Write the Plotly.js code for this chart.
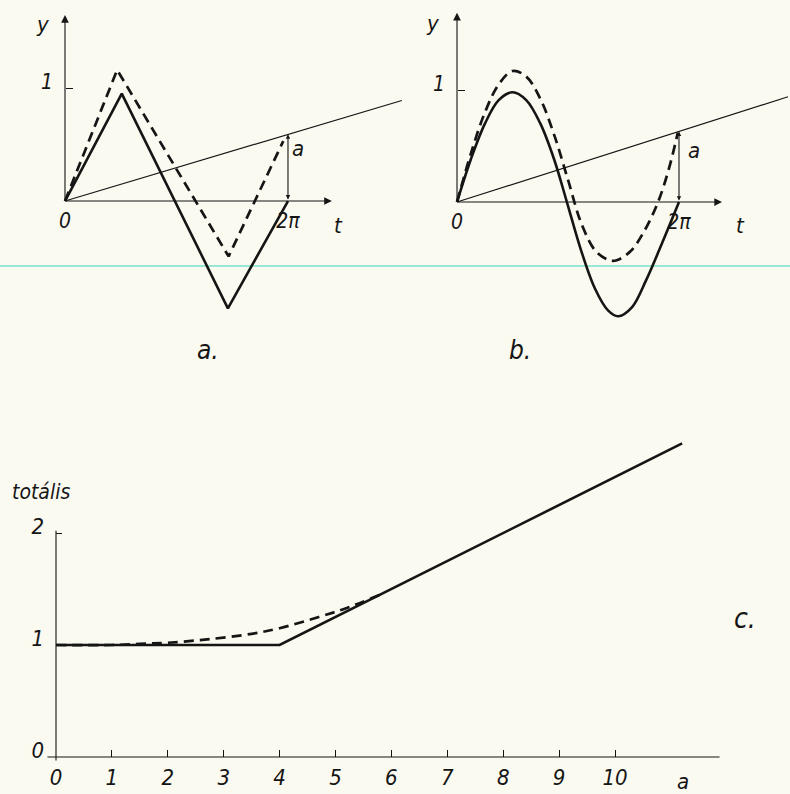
<!DOCTYPE html>
<html>
<head>
<meta charset="utf-8">
<script src="https://cdn.plot.ly/plotly-3.0.1.min.js"></script>
<style>
  html, body { margin: 0; padding: 0; background: #fafaf0; }
  #chart { width: 790px; height: 794px; }
</style>
</head>
<body>
<div id="chart"></div>
<script>
// ---------- DATA ----------
// panel a: triangle wave (solid), triangle + ramp (dashed), ramp line
const tA_solid = [0, 1.60, 4.59, 6.283];
const yA_solid = [0, 0.95, -0.95, 0];
const tA_dash  = [0, 1.47, 4.61, 6.15];
const yA_dash  = [0, 1.16, -0.49, 0.53];
const tA_line  = [0, 9.49];
const yA_line  = [0, 0.89];
const aA = 0.59;

// panel b: sine wave (solid), sine + ramp (dashed), ramp line
const tB_solid = [0, 0.39, 0.79, 1.18, 1.57, 1.96, 2.36, 2.75, 3.11, 3.50, 3.90, 4.28, 4.56, 4.95, 5.35, 5.80, 6.283];
const yB_solid = [0, 0.38, 0.70, 0.91, 0.98, 0.91, 0.70, 0.38, 0, -0.42, -0.77, -0.97, -1.02, -0.94, -0.70, -0.37, 0];
const tB_dash  = [0, 0.39, 0.79, 1.18, 1.57, 1.96, 2.36, 2.75, 3.14, 3.53, 3.93, 4.32, 4.52, 4.91, 5.30, 5.69, 6.00, 6.25];
const yB_dash  = [0, 0.43, 0.80, 1.05, 1.17, 1.12, 0.92, 0.60, 0.20, -0.20, -0.44, -0.52, -0.52, -0.44, -0.26, 0, 0.30, 0.62];
const tB_line  = [0, 9.37];
const yB_line  = [0, 0.94];
const aB = 0.63;

const periodEnd = 6.283;
const periodTickText = ['0', '2π'];

// panel c: totális vs a
const aC_solid = [0, 4, 11.2];
const yC_solid = [1, 1, 2.8];
const aC_dash  = [0, 1, 1.5, 2, 2.7, 3.5, 4, 4.7, 5.2, 5.8];
const yC_dash  = [1, 1, 1.01, 1.02, 1.05, 1.10, 1.15, 1.25, 1.33, 1.45];
const cTicksX = [0, 1, 2, 3, 4, 5, 6, 7, 8, 9, 10];
const cTicksY = [0, 1, 2];

// ---------- STYLE ----------
const INK = '#151515';
const FONT = "'DejaVu Sans Condensed', 'Liberation Sans Narrow', 'DejaVu Sans', sans-serif";
const W = 790, H = 794;
const pxX = v => v / W;
const pxY = v => 1 - v / H;

const solid = (x, y, xa, ya, shape) => ({x, y, xaxis: xa, yaxis: ya, mode: 'lines', hoverinfo: 'skip',
  line: {color: INK, width: 2.6, shape: shape || 'linear', smoothing: 1}});
const dashed = (x, y, xa, ya, shape) => ({x, y, xaxis: xa, yaxis: ya, mode: 'lines', hoverinfo: 'skip',
  line: {color: INK, width: 2.7, dash: '10px,6px', shape: shape || 'linear', smoothing: 1}});
const thin = (x, y, xa, ya) => ({x, y, xaxis: xa, yaxis: ya, mode: 'lines', hoverinfo: 'skip',
  line: {color: INK, width: 1.2}});

const data = [
  solid(tA_solid, yA_solid, 'x', 'y'),
  dashed(tA_dash, yA_dash, 'x', 'y'),
  thin(tA_line, yA_line, 'x', 'y'),
  solid(tB_solid, yB_solid, 'x2', 'y2', 'spline'),
  dashed(tB_dash, yB_dash, 'x2', 'y2', 'spline'),
  thin(tB_line, yB_line, 'x2', 'y2'),
  solid(aC_solid, yC_solid, 'x3', 'y3'),
  dashed(aC_dash, yC_dash, 'x3', 'y3', 'spline'),
];

const lblFont = (s) => ({family: FONT, size: s, color: INK, style: 'italic'});

const hidden = {showgrid: false, zeroline: false, showline: false};

// panel a/b axes (free positioned through origin)
const xA = Object.assign({}, hidden, {domain: [0, 0.53], range: [-1.831, 9.966], anchor: 'free', position: 1 - 201 / H,
  tickmode: 'array', tickvals: [0, periodEnd], ticktext: periodTickText, ticks: '', tickfont: lblFont(21), ticklabelstandoff: 5});
const yA = Object.assign({}, hidden, {domain: [1 - 340 / H, 1], range: [-1.230, 1.779], anchor: 'free', position: 65 / W,
  tickmode: 'array', tickvals: [1], ticktext: ['1'], ticks: 'inside', ticklen: 7, tickcolor: INK, tickwidth: 1,
  tickfont: lblFont(21), ticklabelstandoff: 12, ticklabelshift: -6});
const xB = Object.assign({}, hidden, {domain: [0.5, 1], range: [-1.755, 9.425], anchor: 'free', position: 1 - 202 / H,
  tickmode: 'array', tickvals: [0, periodEnd], ticktext: periodTickText, ticks: '', tickfont: lblFont(21), ticklabelstandoff: 5});
const yB = Object.assign({}, hidden, {domain: [1 - 340 / H, 1], range: [-1.232, 1.804], anchor: 'free', position: 457 / W,
  tickmode: 'array', tickvals: [1], ticktext: ['1'], ticks: 'inside', ticklen: 7, tickcolor: INK, tickwidth: 1,
  tickfont: lblFont(21), ticklabelstandoff: 12, ticklabelshift: -6});

// panel c axes
const xC = Object.assign({}, hidden, {domain: [56 / W, 1], range: [0, 13.13], anchor: 'y3',
  tickmode: 'array', tickvals: cTicksX, ticks: 'inside', ticklen: 7, tickcolor: INK, tickwidth: 1,
  tickfont: lblFont(22), ticklabelstandoff: 5});
const yC = Object.assign({}, hidden, {domain: [37 / H, 1 - 420 / H], range: [0, 3.009], anchor: 'x3',
  tickmode: 'array', tickvals: cTicksY, ticks: 'inside', ticklen: 6, tickcolor: INK, tickwidth: 1,
  tickfont: lblFont(22), ticklabelstandoff: 11, ticklabelshift: -7});

const arrow = (xr, yr, x, y, ax, ay, head, extra) => Object.assign({
  xref: xr, yref: yr, axref: xr, ayref: yr, x, y, ax, ay, text: '', showarrow: true,
  arrowhead: head, arrowsize: 1.4, arrowwidth: 1.1, arrowcolor: INK, standoff: 0, startstandoff: 0}, extra || {});

const txt = (text, x, y, size) => ({xref: 'paper', yref: 'paper', x: pxX(x), y: pxY(y), text,
  showarrow: false, xanchor: 'center', yanchor: 'middle', font: lblFont(size)});

const annotations = [
  // axes of panel a
  arrow('x', 'y', 0, 1.646, 0, 0, 2),
  arrow('x', 'y', 7.52, 0, 0, 0, 2),
  // amplitude arrow a
  arrow('x', 'y', periodEnd, aA, periodEnd, 0, 2, {arrowside: 'end+start', startarrowhead: 2, arrowsize: 0.8, startarrowsize: 0.8}),
  // axes of panel b
  arrow('x2', 'y2', 0, 1.69, 0, 0, 2),
  arrow('x2', 'y2', 7.50, 0, 0, 0, 2),
  arrow('x2', 'y2', periodEnd, aB, periodEnd, 0, 2, {arrowside: 'end+start', startarrowhead: 2, arrowsize: 0.8, startarrowsize: 0.8}),
  // axes of panel c
  arrow('x3', 'y3', 11.87, 0, -0.18, 0, 0),
  arrow('x3', 'y3', 0, 2.02, 0, -0.045, 0),
  // labels
  txt('y', 42, 25, 22), txt('t', 338, 225, 22), txt('a', 298, 148, 22),
  txt('y', 432, 24, 22), txt('t', 740, 225, 22), txt('a', 694, 150, 22),
  txt('a.', 208, 350, 26), txt('b.', 520, 350, 26),
  txt('totális', 41, 492, 21), txt('a', 683, 781, 22), txt('c.', 745, 618, 28),
];

const layout = {
  width: W, height: H,
  margin: {l: 0, r: 0, t: 0, b: 0},
  paper_bgcolor: '#fafaf0',
  plot_bgcolor: 'rgba(0,0,0,0)',
  showlegend: false,
  font: {family: FONT, color: INK, style: 'italic'},
  xaxis: xA, yaxis: yA, xaxis2: xB, yaxis2: yB, xaxis3: xC, yaxis3: yC,
  annotations,
  shapes: [
    {type: 'line', xref: 'paper', yref: 'paper', x0: 0, x1: 1, y0: pxY(266), y1: pxY(266),
     line: {color: '#66dcc8', width: 1.5}, opacity: 0.85, layer: 'below'}
  ]
};

Plotly.newPlot('chart', data, layout, {staticPlot: true, displayModeBar: false});
</script>
</body>
</html>
